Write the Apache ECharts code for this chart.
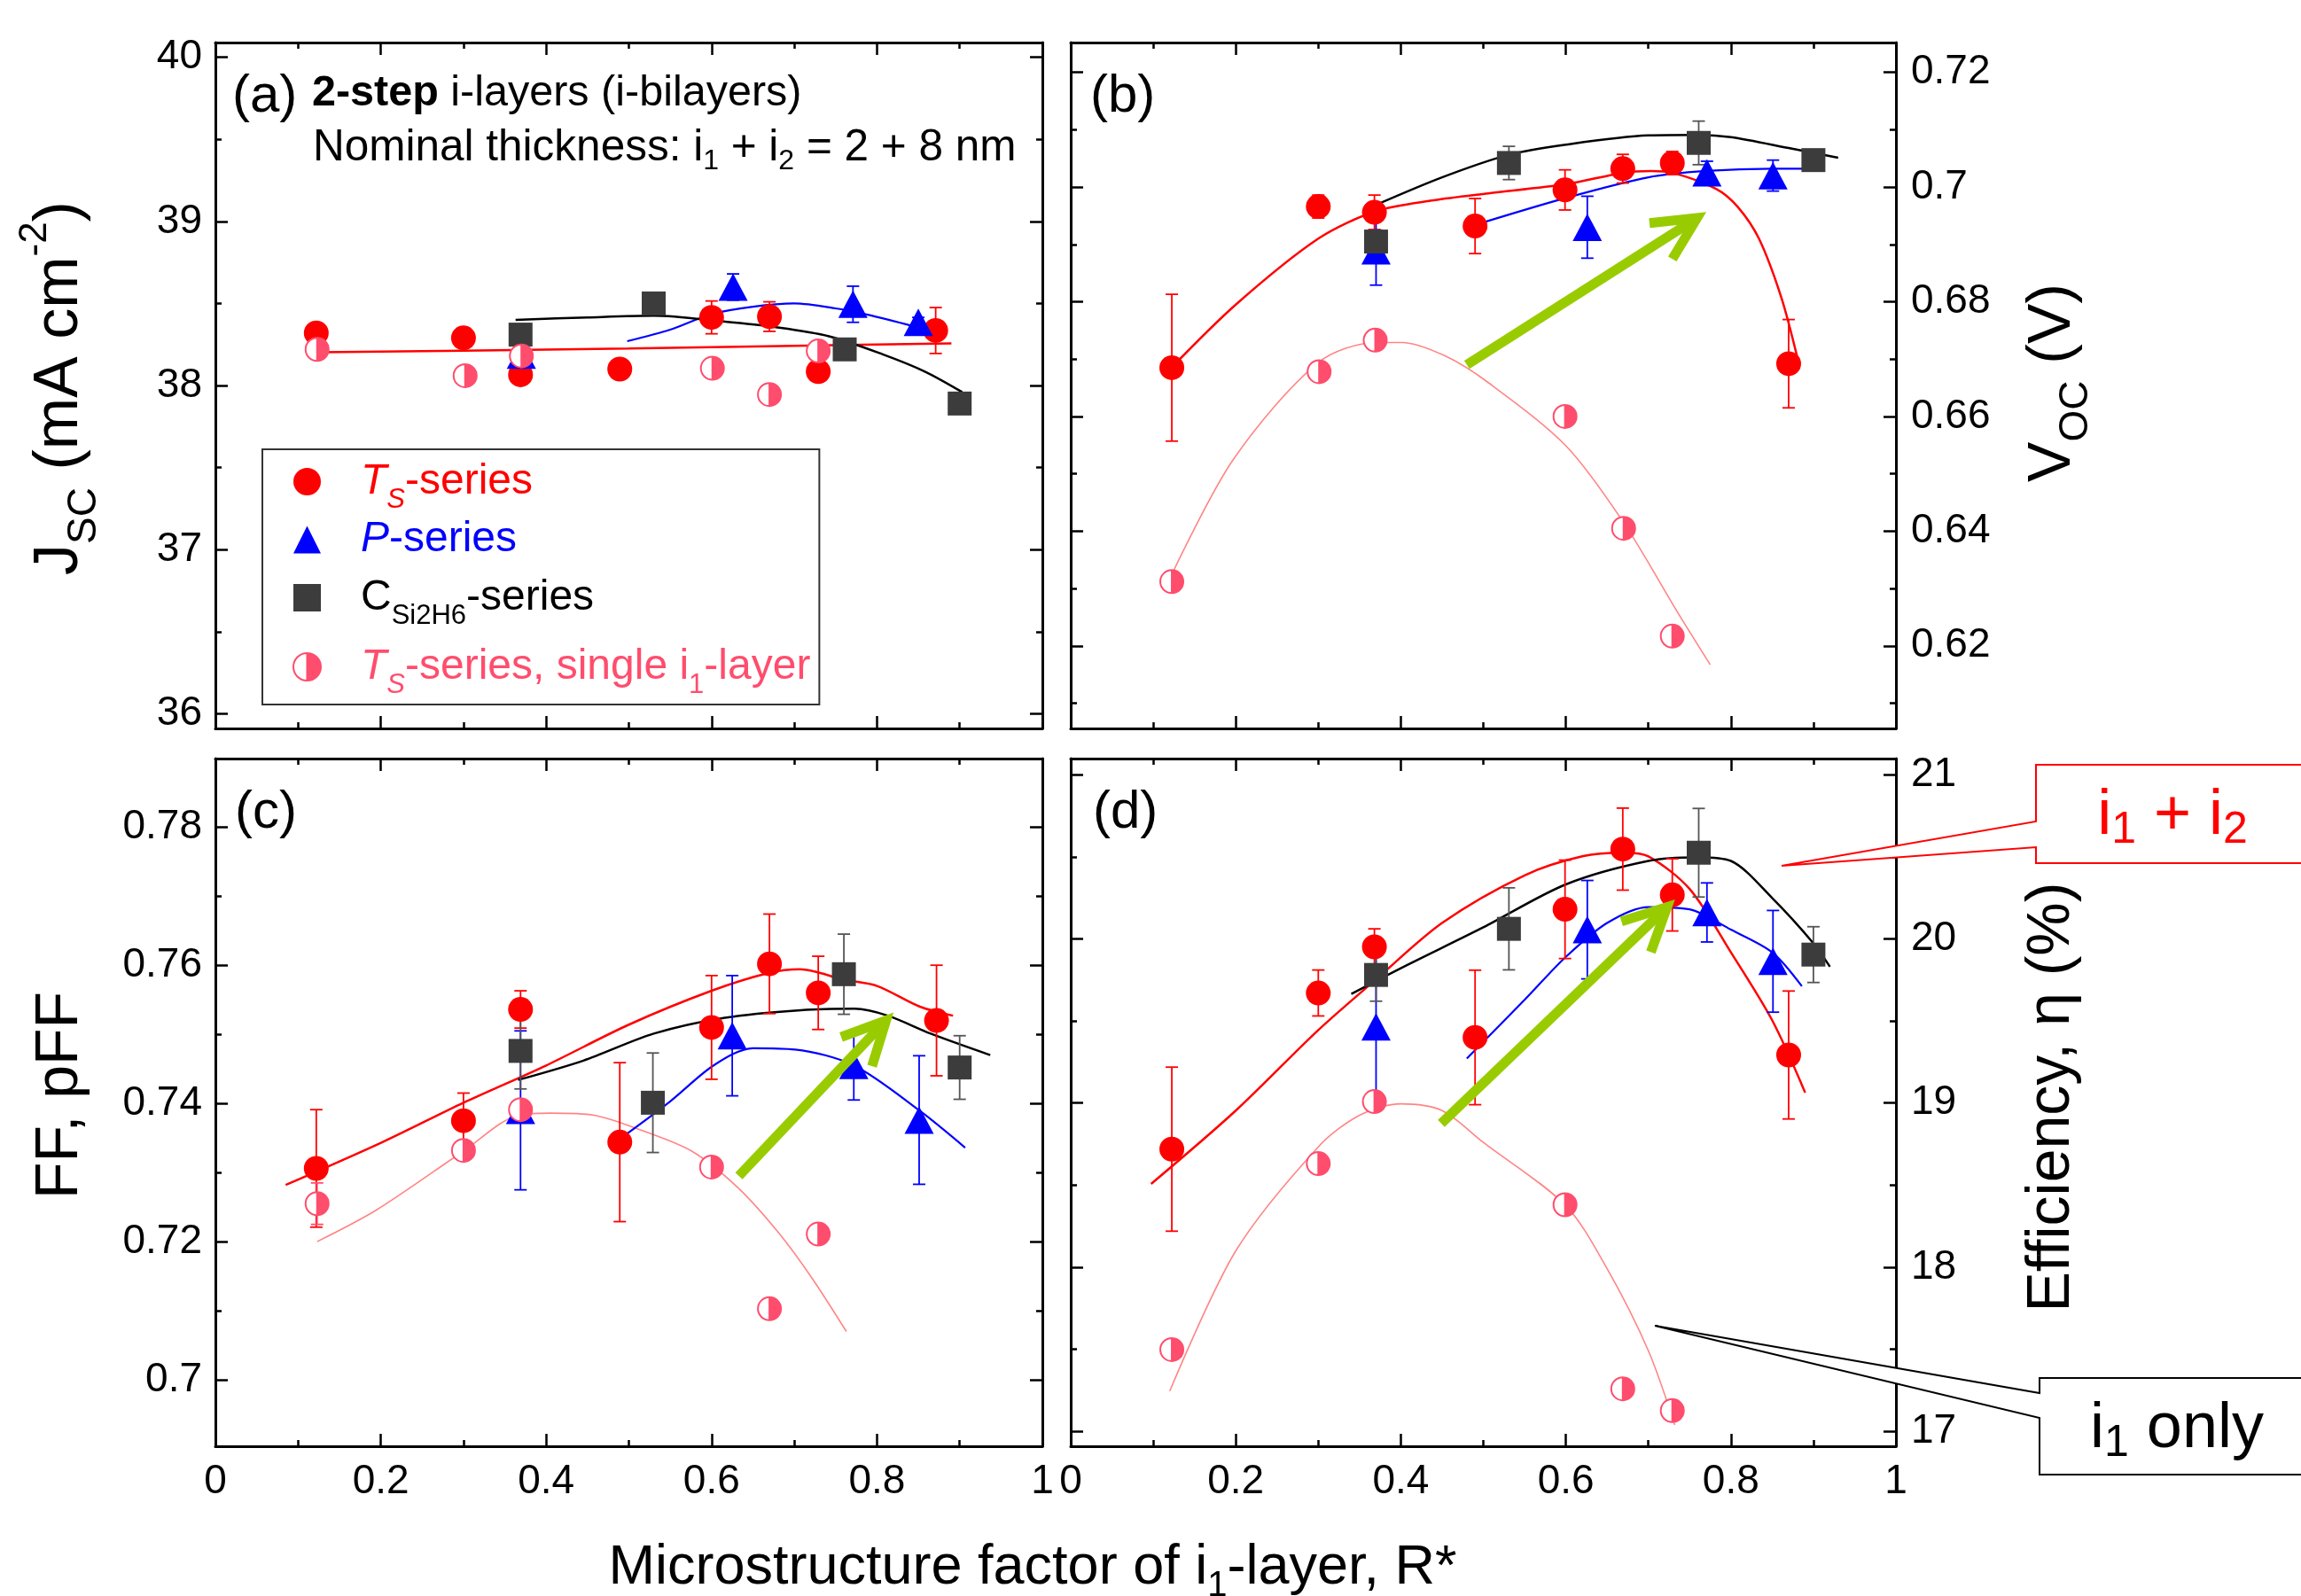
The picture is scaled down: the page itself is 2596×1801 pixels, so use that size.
<!DOCTYPE html>
<html>
<head>
<meta charset="utf-8">
<title>i-bilayer series</title>
<script src="https://cdn.jsdelivr.net/npm/echarts@6/dist/echarts.min.js"></script>
<style>
html, body { margin: 0; padding: 0; background: #fff; }
#chart { width: 2596px; height: 1801px; }
</style>
</head>
<body>
<div id="chart"></div>
<script>
// x axis (shared)
var xRange = [0, 1];
var xMajor = [0, 0.2, 0.4, 0.6, 0.8, 1];
var xMinor = [0.1, 0.3, 0.5, 0.7, 0.9];

// (a) Jsc, mA cm-2   [x, y, err]
var jscRange = [35.91, 40.09];
var jscMajor = [36, 37, 38, 39, 40];
var jscMinor = [36.5, 37.5, 38.5, 39.5];
var jscTs = [[0.122, 38.32, 0.03], [0.30, 38.29, 0.03], [0.369, 38.065, 0.04], [0.489, 38.10, 0.02], [0.60, 38.415, 0.1], [0.67, 38.42, 0.09], [0.729, 38.085, 0.045], [0.871, 38.335, 0.14]];
var jscP = [[0.37, 38.185, 0.03], [0.626, 38.60, 0.08], [0.771, 38.495, 0.11], [0.85, 38.385, 0.03]];
var jscC = [[0.369, 38.31, 0.02], [0.53, 38.50, 0.02], [0.761, 38.22, 0.02], [0.90, 37.89, 0.02]];
var jscSingle = [[0.123, 38.22], [0.302, 38.06], [0.37, 38.18], [0.601, 38.105], [0.67, 37.945], [0.729, 38.21]];
var jscTsFit = [[0.126, 38.202], [0.3, 38.212], [0.5, 38.225], [0.7, 38.242], [0.89, 38.256]];
var jscPFit = [[0.498, 38.27], [0.55, 38.34], [0.6, 38.435], [0.65, 38.48], [0.7, 38.5], [0.75, 38.47], [0.79, 38.43], [0.845, 38.36]];
var jscCFit = [[0.363, 38.40], [0.45, 38.415], [0.53, 38.425], [0.614, 38.39], [0.678, 38.355], [0.742, 38.30], [0.807, 38.19], [0.858, 38.085], [0.903, 37.96]];

// (b) Voc, V
var vocRange = [0.6056, 0.7252];
var vocMajor = [0.62, 0.64, 0.66, 0.68, 0.70, 0.72];
var vocMinor = [0.61, 0.63, 0.65, 0.67, 0.69, 0.71];
var vocTs = [[0.1225, 0.6685, 0.0128], [0.30, 0.6966, 0.002], [0.368, 0.6956, 0.003], [0.49, 0.6932, 0.0048], [0.599, 0.6995, 0.0035], [0.669, 0.7032, 0.0025], [0.729, 0.7042, 0.002], [0.87, 0.6692, 0.0077]];
var vocP = [[0.37, 0.6889, 0.006], [0.626, 0.693, 0.0054], [0.771, 0.7025, 0.002], [0.851, 0.702, 0.0027]];
var vocC = [[0.37, 0.6905, 0.002], [0.531, 0.7042, 0.0029], [0.761, 0.7077, 0.0038], [0.90, 0.7047, 0.001]];
var vocSingle = [[0.1225, 0.6312], [0.301, 0.6678], [0.369, 0.6733], [0.599, 0.66], [0.67, 0.6405], [0.729, 0.6217]];
var vocTsFit = [[0.122, 0.6685], [0.2, 0.6795], [0.30, 0.691], [0.37, 0.6958], [0.44, 0.6977], [0.506, 0.6989], [0.6, 0.7005], [0.67, 0.7025], [0.703, 0.7028], [0.729, 0.7025], [0.782, 0.6997], [0.808, 0.6966], [0.834, 0.691], [0.861, 0.6808], [0.88, 0.6706]];
var vocPFit = [[0.49, 0.6934], [0.6, 0.6981], [0.7, 0.7017], [0.77, 0.7028], [0.85, 0.7032], [0.9, 0.7032]];
var vocCFit = [[0.37, 0.6969], [0.45, 0.7017], [0.53, 0.7056], [0.6, 0.7074], [0.7, 0.709], [0.76, 0.7091], [0.8, 0.7087], [0.87, 0.7068], [0.93, 0.7051]];
var vocSingleFit = [[0.1223, 0.6324], [0.197, 0.6525], [0.30, 0.6694], [0.37, 0.6729], [0.401, 0.6729], [0.453, 0.6706], [0.506, 0.6659], [0.6, 0.6549], [0.67, 0.6415], [0.736, 0.6257], [0.775, 0.6167]];
var vocArrow = [[0.48, 0.669, 0.759, 0.6946]];

// (c) FF
var ffRange = [0.6904, 0.7899];
var ffMajor = [0.70, 0.72, 0.74, 0.76, 0.78];
var ffMinor = [0.71, 0.73, 0.75, 0.77];
var ffTs = [[0.122, 0.7306, 0.0085], [0.30, 0.7375, 0.004], [0.369, 0.7536, 0.0027], [0.489, 0.7344, 0.0115], [0.60, 0.751, 0.0075], [0.67, 0.7602, 0.0072], [0.729, 0.756, 0.0053], [0.872, 0.752, 0.008]];
var ffP = [[0.369, 0.739, 0.0115], [0.625, 0.7498, 0.0087], [0.772, 0.7455, 0.005], [0.851, 0.7376, 0.0093]];
var ffC = [[0.369, 0.7476, 0.0055], [0.529, 0.7401, 0.0072], [0.76, 0.7587, 0.0058], [0.90, 0.7452, 0.0046]];
var ffSingle = [[0.123, 0.7255, 0.003], [0.30, 0.7332], [0.369, 0.7391], [0.60, 0.7308], [0.67, 0.7103], [0.729, 0.7211]];
var ffTsFit = [[0.085, 0.7282], [0.202, 0.7344], [0.30, 0.7401], [0.40, 0.7455], [0.50, 0.7514], [0.60, 0.7563], [0.67, 0.7589], [0.707, 0.7594], [0.76, 0.7579], [0.80, 0.757], [0.852, 0.754], [0.892, 0.7527]];
var ffPFit = [[0.4895, 0.7349], [0.55, 0.7403], [0.6025, 0.7455], [0.65, 0.748], [0.701, 0.7478], [0.772, 0.7455], [0.851, 0.739], [0.9066, 0.7336]];
var ffCFit = [[0.366, 0.7434], [0.445, 0.7462], [0.53, 0.7501], [0.616, 0.7524], [0.708, 0.7535], [0.773, 0.7537], [0.813, 0.7527], [0.865, 0.7501], [0.937, 0.747]];
var ffSingleFit = [[0.123, 0.72], [0.195, 0.7246], [0.30, 0.7331], [0.366, 0.7383], [0.405, 0.7386], [0.458, 0.7383], [0.511, 0.7363], [0.576, 0.7331], [0.632, 0.7278], [0.681, 0.7213], [0.721, 0.7148], [0.763, 0.707]];
var ffArrow = [[0.633, 0.7295, 0.811, 0.752]];

// (d) efficiency, %
var effRange = [16.908, 21.1];
var effMajor = [17, 18, 19, 20, 21];
var effMinor = [17.5, 18.5, 19.5, 20.5];
var effTs = [[0.1225, 18.719, 0.5], [0.30, 19.671, 0.14], [0.368, 19.952, 0.11], [0.49, 19.40, 0.41], [0.599, 20.181, 0.3], [0.669, 20.548, 0.25], [0.729, 20.269, 0.22], [0.87, 19.293, 0.39]];
var effP = [[0.37, 19.464, 0.45], [0.626, 20.057, 0.3], [0.771, 20.162, 0.18], [0.851, 19.864, 0.31]];
var effC = [[0.37, 19.781, 0.16], [0.531, 20.062, 0.25], [0.761, 20.526, 0.27], [0.90, 19.905, 0.17]];
var effSingle = [[0.1225, 17.497], [0.30, 18.631], [0.368, 19.009], [0.599, 18.38], [0.669, 17.258], [0.729, 17.125]];
var effTsFit = [[0.0974, 18.507], [0.2, 18.954], [0.30, 19.445], [0.37, 19.754], [0.45, 20.098], [0.55, 20.388], [0.62, 20.504], [0.67, 20.526], [0.70, 20.504], [0.75, 20.305], [0.80, 19.919], [0.85, 19.505], [0.89, 19.064]];
var effPFit = [[0.48, 19.271], [0.55, 19.629], [0.6, 19.891], [0.65, 20.098], [0.70, 20.195], [0.75, 20.181], [0.80, 20.057], [0.85, 19.919], [0.886, 19.712]];
var effCFit = [[0.34, 19.665], [0.40, 19.822], [0.50, 20.071], [0.60, 20.333], [0.70, 20.476], [0.76, 20.498], [0.80, 20.476], [0.85, 20.25], [0.90, 19.974], [0.92, 19.831]];
var effSingleFit = [[0.12, 17.244], [0.2, 18.099], [0.3, 18.733], [0.35, 18.926], [0.4, 18.995], [0.45, 18.954], [0.5, 18.76], [0.6, 18.374], [0.65, 17.99], [0.7, 17.49], [0.732, 17.037]];
var effArrow = [[0.449, 18.876, 0.7227, 20.195]];

// legend texts
var legendText = {
    Ts: '{sp| }{ri|T}{rs|S}{r|-series}',
    P: '{sp| }{bi|P}{b|-series}',
    C: '{sp| }{k|C}{ks|Si2H6}{k|-series}',
    single: '{sp| }{pi|T}{psi|S}{p|-series, single i}{ps|1}{p|-layer}'
};

var FONT = "'Liberation Sans', Arial, sans-serif";
var RED = '#FF0000', BLUE = '#0000FF', GREY = '#3C3C3C', PINK = '#FF4D6D', SALMON = '#FF8585', GREEN = '#99CC00';
// circle outline with right half filled
var HALF = 'path://M0 -10 A10 10 0 1 1 0 10 A10 10 0 1 1 0 -10 Z M0 -10 A10 10 0 0 0 0 10 Z';

var myChart = echarts.init(document.getElementById('chart'), null, {renderer: 'canvas'});

var panels = [
    {box: {left: 243, top: 48, width: 933, height: 774}, range: jscRange, major: jscMajor, minor: jscMinor, side: 'left', xLab: false,
     ts: jscTs, p: jscP, c: jscC, single: jscSingle, tsFit: jscTsFit, pFit: jscPFit, cFit: jscCFit, singleFit: null, arrow: null},
    {box: {left: 1208, top: 48, width: 931, height: 774}, range: vocRange, major: vocMajor, minor: vocMinor, side: 'right', xLab: false,
     ts: vocTs, p: vocP, c: vocC, single: vocSingle, tsFit: vocTsFit, pFit: vocPFit, cFit: vocCFit, singleFit: vocSingleFit, arrow: vocArrow},
    {box: {left: 243, top: 856, width: 933, height: 776}, range: ffRange, major: ffMajor, minor: ffMinor, side: 'left', xLab: true,
     ts: ffTs, p: ffP, c: ffC, single: ffSingle, tsFit: ffTsFit, pFit: ffPFit, cFit: ffCFit, singleFit: ffSingleFit, arrow: ffArrow},
    {box: {left: 1208, top: 856, width: 931, height: 776}, range: effRange, major: effMajor, minor: effMinor, side: 'right', xLab: true,
     ts: effTs, p: effP, c: effC, single: effSingle, tsFit: effTsFit, pFit: effPFit, cFit: effCFit, singleFit: effSingleFit, arrow: effArrow}
];

function makeAxis(g, pos, range, ticks, len, line, labels) {
    var margin = (pos === 'bottom') ? 17 : (pos === 'left' ? 15 : 17);
    return {
        type: 'value', gridIndex: g, position: pos, min: range[0], max: range[1],
        axisLine: {show: line, onZero: false, lineStyle: {color: '#000', width: 3}},
        axisTick: {show: true, inside: true, length: len, customValues: ticks, lineStyle: {color: '#000', width: 2.5}},
        axisLabel: labels ? {
            show: true, customValues: labels, margin: margin, color: '#000', fontSize: 46, fontFamily: FONT,
            formatter: function (v) { return String(+(+v).toFixed(4)); }
        } : {show: false},
        splitLine: {show: false}, minorTick: {show: false}, axisPointer: {show: false}
    };
}

function fit(data, color, width, xi, yi) {
    return {
        type: 'line', name: 'fit', xAxisIndex: xi, yAxisIndex: yi, data: data,
        smooth: 0.3, showSymbol: false, symbol: 'none',
        lineStyle: {color: color, width: width}, itemStyle: {color: color}, silent: true, z: 2
    };
}

function errBars(data, color, xi, yi) {
    var rows = data.filter(function (d) { return d.length > 2; });
    return {
        type: 'custom', name: 'err', xAxisIndex: xi, yAxisIndex: yi, data: rows,
        encode: {x: 0, y: 1}, silent: true, z: 3, clip: false,
        renderItem: function (params, api) {
            var x = api.value(0), y = api.value(1), e = api.value(2);
            var hi = api.coord([x, y + e]), lo = api.coord([x, y - e]);
            var st = {stroke: color, lineWidth: 1.8};
            return {type: 'group', children: [
                {type: 'line', shape: {x1: hi[0], y1: hi[1], x2: lo[0], y2: lo[1]}, style: st},
                {type: 'line', shape: {x1: hi[0] - 7, y1: hi[1], x2: hi[0] + 7, y2: hi[1]}, style: st},
                {type: 'line', shape: {x1: lo[0] - 7, y1: lo[1], x2: lo[0] + 7, y2: lo[1]}, style: st}
            ]};
        }
    };
}

function dots(name, data, symbol, size, style, xi, yi) {
    style.opacity = 1;
    return {
        type: 'scatter', name: name, xAxisIndex: xi, yAxisIndex: yi,
        data: data.map(function (d) { return [d[0], d[1]]; }),
        symbol: symbol, symbolSize: size, itemStyle: style, silent: true, z: 4
    };
}

function arrow(data, xi, yi) {
    return {
        type: 'custom', name: 'arrow', xAxisIndex: xi, yAxisIndex: yi, data: data,
        encode: {x: [0, 2], y: [1, 3]}, silent: true, z: 5, clip: false,
        renderItem: function (params, api) {
            var p0 = api.coord([api.value(0), api.value(1)]);
            var p1 = api.coord([api.value(2), api.value(3)]);
            var ang = Math.atan2(p1[1] - p0[1], p1[0] - p0[0]);
            var L = 54, a = 0.46;
            var h1 = [p1[0] - L * Math.cos(ang - a), p1[1] - L * Math.sin(ang - a)];
            var h2 = [p1[0] - L * Math.cos(ang + a), p1[1] - L * Math.sin(ang + a)];
            var st = {stroke: GREEN, lineWidth: 11, fill: null, lineJoin: 'miter', lineCap: 'butt'};
            return {type: 'group', children: [
                {type: 'polyline', shape: {points: [p0, p1]}, style: st},
                {type: 'polyline', shape: {points: [h1, p1, h2]}, style: st}
            ]};
        }
    };
}

var grids = [], xAxes = [], yAxes = [], series = [];
panels.forEach(function (pn, g) {
    var b = pn.box;
    grids.push({left: b.left, top: b.top, width: b.width, height: b.height, containLabel: false, outerBoundsMode: 'none'});
    xAxes.push(makeAxis(g, 'bottom', xRange, xMajor, 14, true, pn.xLab ? xMajor : null));
    xAxes.push(makeAxis(g, 'bottom', xRange, xMinor, 7, false, null));
    xAxes.push(makeAxis(g, 'top', xRange, xMajor, 14, true, null));
    xAxes.push(makeAxis(g, 'top', xRange, xMinor, 7, false, null));
    yAxes.push(makeAxis(g, 'left', pn.range, pn.major, 14, true, pn.side === 'left' ? pn.major : null));
    yAxes.push(makeAxis(g, 'left', pn.range, pn.minor, 7, false, null));
    yAxes.push(makeAxis(g, 'right', pn.range, pn.major, 14, true, pn.side === 'right' ? pn.major : null));
    yAxes.push(makeAxis(g, 'right', pn.range, pn.minor, 7, false, null));

    var xi = g * 4, yi = g * 4;
    if (pn.singleFit) series.push(fit(pn.singleFit, SALMON, 1.6, xi, yi));
    series.push(fit(pn.tsFit, RED, 2.5, xi, yi));
    series.push(fit(pn.pFit, BLUE, 2.2, xi, yi));
    series.push(fit(pn.cFit, '#000', 2.5, xi, yi));
    series.push(errBars(pn.ts, RED, xi, yi));
    series.push(errBars(pn.p, BLUE, xi, yi));
    series.push(errBars(pn.c, '#555', xi, yi));
    series.push(errBars(pn.single, PINK, xi, yi));
    series.push(dots('Ts', pn.ts, 'circle', 28, {color: RED}, xi, yi));
    series.push(dots('P', pn.p, 'triangle', [33, 31], {color: BLUE}, xi, yi));
    series.push(dots('C', pn.c, 'rect', 27, {color: GREY}, xi, yi));
    series.push(dots('single-bg', pn.single, 'circle', 26, {color: '#fff'}, xi, yi));
    series.push(dots('single', pn.single, HALF, 26, {color: PINK, borderColor: PINK, borderWidth: 2}, xi, yi));
    if (pn.arrow) series.push(arrow(pn.arrow, xi, yi));
});

function lg(color, italic, sub) {
    var s = {color: color, fontFamily: FONT, fontStyle: italic ? 'italic' : 'normal'};
    if (sub) { s.fontSize = 31; s.lineHeight = 31; s.padding = [42, 0, 0, 0]; }
    else { s.fontSize = 48; s.lineHeight = 70; }
    return s;
}

function t(size, extra) {
    var s = {fontSize: size, fontFamily: FONT, fill: '#000'};
    for (var k in extra) s[k] = extra[k];
    return s;
}

var option = {
    animation: false,
    backgroundColor: '#fff',
    grid: grids,
    xAxis: xAxes,
    yAxis: yAxes,
    legend: {
        left: 296, top: 507, orient: 'vertical', selectedMode: false,
        itemWidth: 31, itemHeight: 31, itemGap: 5, padding: [0, 10, 6, 34],
        borderColor: '#333', borderWidth: 2, backgroundColor: '#fff',
        data: [{name: 'Ts', icon: 'circle'}, {name: 'P', icon: 'triangle'}, {name: 'C', icon: 'rect'}, {name: 'single', icon: HALF}],
        formatter: function (name) { return legendText[name]; },
        textStyle: {
            fontFamily: FONT, fontSize: 48,
            rich: {
                sp: {width: 40, lineHeight: 70, fontSize: 48},
                r: lg(RED, false), ri: lg(RED, true), rs: lg(RED, true, true),
                b: lg(BLUE, false), bi: lg(BLUE, true),
                k: lg('#000', false), ks: lg('#000', false, true),
                p: lg(PINK, false), pi: lg(PINK, true), psi: lg(PINK, true, true), ps: lg(PINK, false, true)
            }
        }
    },
    series: series,
    graphic: [
        // panel letters
        {type: 'text', x: 262, y: 109, style: {text: '(a)', fontSize: 60, fontFamily: FONT, fill: '#000', verticalAlign: 'middle'}},
        {type: 'text', x: 1230, y: 109, style: {text: '(b)', fontSize: 60, fontFamily: FONT, fill: '#000', verticalAlign: 'middle'}},
        {type: 'text', x: 265, y: 917, style: {text: '(c)', fontSize: 60, fontFamily: FONT, fill: '#000', verticalAlign: 'middle'}},
        {type: 'text', x: 1233, y: 917, style: {text: '(d)', fontSize: 60, fontFamily: FONT, fill: '#000', verticalAlign: 'middle'}},
        // description in (a)
        {type: 'text', x: 352, y: 106, style: {
            text: '{b|2-step}{a| i-layers (i-bilayers)}', verticalAlign: 'middle',
            rich: {b: t(48.5, {fontWeight: 'bold', lineHeight: 60}), a: t(48.5, {lineHeight: 60})}
        }},
        {type: 'text', x: 353, y: 167, style: {
            text: '{a|Nominal thickness: i}{s|1}{a| + i}{s|2}{a| = 2 + 8 nm}', verticalAlign: 'middle',
            rich: {a: t(49.5, {lineHeight: 60}), s: t(32, {lineHeight: 32, padding: [30, 0, 0, 0]})}
        }},
        // axis titles
        {type: 'text', x: 68, y: 438, rotation: Math.PI / 2, style: {
            text: '{a|J}{s|SC}{a| (mA cm}{u|-2}{a|)}', align: 'center', verticalAlign: 'middle',
            rich: {a: t(70, {lineHeight: 100}), s: t(46, {lineHeight: 46, padding: [54, 0, 0, 0]}), u: t(44, {lineHeight: 44, padding: [0, 0, 56, 0]})}
        }},
        {type: 'text', x: 68, y: 1236, rotation: Math.PI / 2, style: {
            text: 'FF, pFF', fontSize: 68, fontFamily: FONT, fill: '#000', align: 'center', verticalAlign: 'middle'
        }},
        {type: 'text', x: 2316, y: 432, rotation: Math.PI / 2, style: {
            text: '{a|V}{s|OC}{a| (V)}', align: 'center', verticalAlign: 'middle',
            rich: {a: t(68, {lineHeight: 96}), s: t(46, {lineHeight: 46, padding: [52, 0, 0, 0]})}
        }},
        {type: 'text', x: 2315, y: 1238, rotation: Math.PI / 2, style: {
            text: 'Efficiency, η (%)', fontSize: 68, fontFamily: FONT, fill: '#000', align: 'center', verticalAlign: 'middle'
        }},
        {type: 'text', x: 1165, y: 1770, style: {
            text: '{a|Microstructure factor of i}{s|1}{a|-layer, R*}', align: 'center', verticalAlign: 'middle',
            rich: {a: t(63, {lineHeight: 80}), s: t(40, {lineHeight: 40, padding: [40, 0, 0, 0]})}
        }},
        // callouts
        {type: 'polygon', z: 10, shape: {points: [[2297, 863], [2620, 863], [2620, 974], [2297, 974], [2297, 956], [2010, 977], [2297, 927]]},
         style: {fill: '#fff', stroke: RED, lineWidth: 2}},
        {type: 'text', z: 11, x: 2451, y: 921, style: {
            text: '{a|i}{s|1}{a| + i}{s|2}', align: 'center', verticalAlign: 'middle',
            rich: {a: t(72, {fill: RED, lineHeight: 84}), s: t(50, {fill: RED, lineHeight: 50, padding: [32, 0, 0, 0]})}
        }},
        {type: 'polygon', z: 10, shape: {points: [[2301, 1555], [2620, 1555], [2620, 1664], [2301, 1664], [2301, 1600], [1867, 1496], [2301, 1572]]},
         style: {fill: '#fff', stroke: '#000', lineWidth: 2}},
        {type: 'text', z: 11, x: 2456, y: 1613, style: {
            text: '{a|i}{s|1}{a| only}', align: 'center', verticalAlign: 'middle',
            rich: {a: t(72, {lineHeight: 84}), s: t(50, {lineHeight: 50, padding: [32, 0, 0, 0]})}
        }}
    ]
};

myChart.setOption(option);
</script>
</body>
</html>
